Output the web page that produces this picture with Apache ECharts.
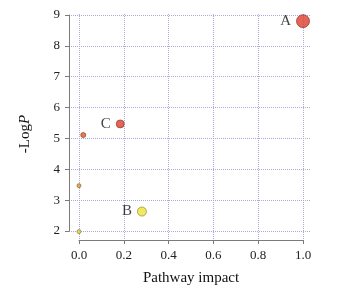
<!DOCTYPE html>
<html>
<head>
<meta charset="utf-8">
<script src="https://cdn.jsdelivr.net/npm/echarts@6/dist/echarts.min.js"></script>
<style>
  html, body { margin: 0; padding: 0; background: #fff; }
  #chart { width: 359px; height: 294px; }
</style>
</head>
<body>
<div id="chart"></div>
<script>
// 通路数据
var names = ['A', 'C', '', '', '', 'B'];
var impact = [1.0, 0.184, 0.019, 0.0, 0.0, 0.281];
var logP = [8.8, 5.47, 5.11, 3.47, 1.98, 2.63];
var xTicks = [0, 0.2, 0.4, 0.6, 0.8, 1.0];
var yTicks = [2, 3, 4, 5, 6, 7, 8, 9];

// 点的样式
var dotSize = [13, 8, 5, 4, 4, 9];
var dotColor = ['#dd3f2e', '#dd3f2e', '#dc5a2a', '#e29a33', '#e8d43c', '#f0e43a'];
var dotBorder = ['#8a2a20', '#8a2a20', '#8a3a1a', '#7a5a1a', '#7a7020', '#8a8020'];

var serif = 'Liberation Serif, Times New Roman, serif';
var gridColor = '#a9a9dc';
var axisColor = '#7a7a7a';

var data = [];
for (var i = 0; i < names.length; i++) {
    data.push({
        name: names[i],
        value: [impact[i], logP[i]],
        symbolSize: dotSize[i],
        itemStyle: { color: dotColor[i], borderColor: dotBorder[i], borderWidth: 0.8 }
    });
}

var myChart = echarts.init(document.getElementById('chart'));

var option = {
    animation: false,
    grid: [
        // 数据区
        { left: 69, right: 48, top: 14, bottom: 54 },
        // x轴
        { left: 79, right: 56, top: 14, bottom: 54 },
        // y轴
        { left: 69, right: 48, top: 15, bottom: 63 }
    ],
    xAxis: [
        { gridIndex: 0, type: 'value', min: -0.0446, max: 1.0357, show: false },
        {
            gridIndex: 1, type: 'value', min: xTicks[0], max: xTicks[xTicks.length - 1], interval: 0.2,
            name: 'Pathway impact', nameLocation: 'middle', nameGap: 31,
            nameTextStyle: { fontFamily: serif, fontSize: 15, color: '#111' },
            axisLine: { show: true, onZero: false, lineStyle: { color: axisColor, width: 1 } },
            axisTick: { show: true, inside: false, length: 4, lineStyle: { color: axisColor } },
            axisLabel: {
                margin: 9, fontFamily: serif, fontSize: 13, color: '#222',
                formatter: function (v) { return v.toFixed(1); }
            },
            splitLine: { show: true, lineStyle: { color: gridColor, type: [1, 1], width: 1 } }
        },
        { gridIndex: 2, type: 'value', min: 0, max: 1, show: false }
    ],
    yAxis: [
        { gridIndex: 0, type: 'value', min: 1.708, max: 9.032, show: false },
        { gridIndex: 1, type: 'value', min: 0, max: 1, show: false },
        {
            gridIndex: 2, type: 'value', min: yTicks[0], max: yTicks[yTicks.length - 1], interval: 1,
            axisLine: { show: true, onZero: false, lineStyle: { color: axisColor, width: 1 } },
            axisTick: { show: true, inside: false, length: 4, lineStyle: { color: axisColor } },
            axisLabel: { margin: 9, fontFamily: serif, fontSize: 13, color: '#222' },
            splitLine: { show: true, lineStyle: { color: gridColor, type: [1, 1], width: 1 } }
        }
    ],
    graphic: [{
        type: 'text',
        x: 18, y: 134,
        rotation: Math.PI / 2,
        style: {
            text: '-Log{i|P}',
            fontFamily: serif, fontSize: 15, fill: '#111',
            align: 'center', verticalAlign: 'top',
            rich: { i: { fontFamily: serif, fontSize: 15, fontStyle: 'italic' } }
        }
    }],
    series: [{
        type: 'scatter',
        xAxisIndex: 0,
        yAxisIndex: 0,
        data: data,
        label: {
            show: true,
            position: 'left',
            distance: 5,
            formatter: '{b}',
            fontFamily: serif,
            fontSize: 15,
            color: '#111'
        }
    }]
};

myChart.setOption(option);
</script>
</body>
</html>
